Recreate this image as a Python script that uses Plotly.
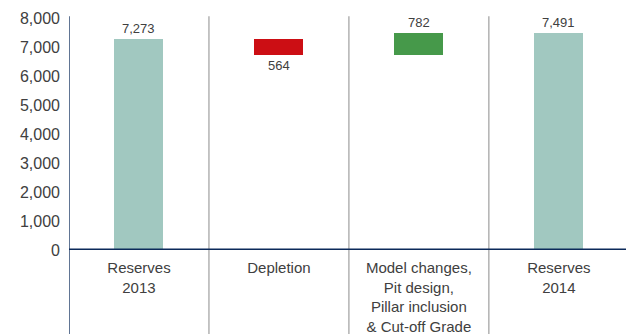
import plotly.graph_objects as go

# Reserve reconciliation, 2013 -> 2014
categories = ["Reserves<br>2013", "Depletion",
              "Model changes,<br>Pit design,<br>Pillar inclusion<br>& Cut-off Grade",
              "Reserves<br>2014"]
changes = [7273, -564, 782, 7491]
kinds = ["total", "delta", "delta", "total"]
y_ticks = [0, 1000, 2000, 3000, 4000, 5000, 6000, 7000, 8000]

TOTAL_C = "#a1c8c0"
DOWN_C = "#cc0e14"
UP_C = "#46994a"
NAVY = "#0c2a5a"
SEP = "#a6a6a6"
TXT = "#404040"

# floating bar bases for the waterfall steps
bases, heights, colors = [], [], []
running = 0
for v, k in zip(changes, kinds):
    if k == "total":
        bases.append(0)
        heights.append(v)
        colors.append(TOTAL_C)
        running = v
    else:
        bases.append(running)
        heights.append(v)
        colors.append(UP_C if v > 0 else DOWN_C)
        running += v

fig = go.Figure(go.Bar(
    x=categories, y=heights, base=bases, width=0.35,
    marker=dict(color=colors, line=dict(width=0)),
    hoverinfo="skip",
))

annotations = []
for c, b, h in zip(categories, bases, heights):
    top = b + h if h > 0 else b
    bottom = b + h if h < 0 else b
    if h >= 0:
        annotations.append(dict(x=c, y=top, text=f"{abs(h):,}", showarrow=False,
                                yanchor="bottom", yshift=1,
                                font=dict(size=13, color=TXT)))
    else:
        annotations.append(dict(x=c, y=bottom, text=f"{abs(h):,}", showarrow=False,
                                yanchor="top", yshift=-1,
                                font=dict(size=13, color=TXT)))

low = -84 / 232
shapes = []
# separators between categories
for i in range(1, len(categories)):
    shapes.append(dict(type="line", xref="x", yref="paper", x0=i - 0.5, x1=i - 0.5,
                       y0=low, y1=1.008, line=dict(color=SEP, width=1.3)))
# left axis line
shapes.append(dict(type="line", xref="x", yref="paper", x0=-0.5, x1=-0.5,
                   y0=low, y1=1.008, line=dict(color=NAVY, width=1.3)))
# baseline at zero
shapes.append(dict(type="line", xref="paper", yref="y", x0=0, x1=1, y0=0, y1=0,
                   line=dict(color=NAVY, width=3)))

fig.update_layout(
    width=626, height=334,
    margin=dict(l=69, r=0, t=18, b=84),
    paper_bgcolor="white", plot_bgcolor="white",
    showlegend=False, bargap=0,
    font=dict(family="Liberation Sans, Arial, sans-serif", color=TXT),
    annotations=annotations, shapes=shapes,
    xaxis=dict(range=[-0.5, 3.48], showgrid=False, zeroline=False, showline=False,
               ticks="", tickfont=dict(size=15, color=TXT), ticklabelstandoff=7,
               automargin=False),
    yaxis=dict(range=[0, 8000], tickvals=y_ticks, tickformat=",d",
               showgrid=False, zeroline=False, showline=False, ticks="",
               tickfont=dict(size=16, color=TXT), ticklabelstandoff=8,
               automargin=False),
)

fig.write_html("out.html")
